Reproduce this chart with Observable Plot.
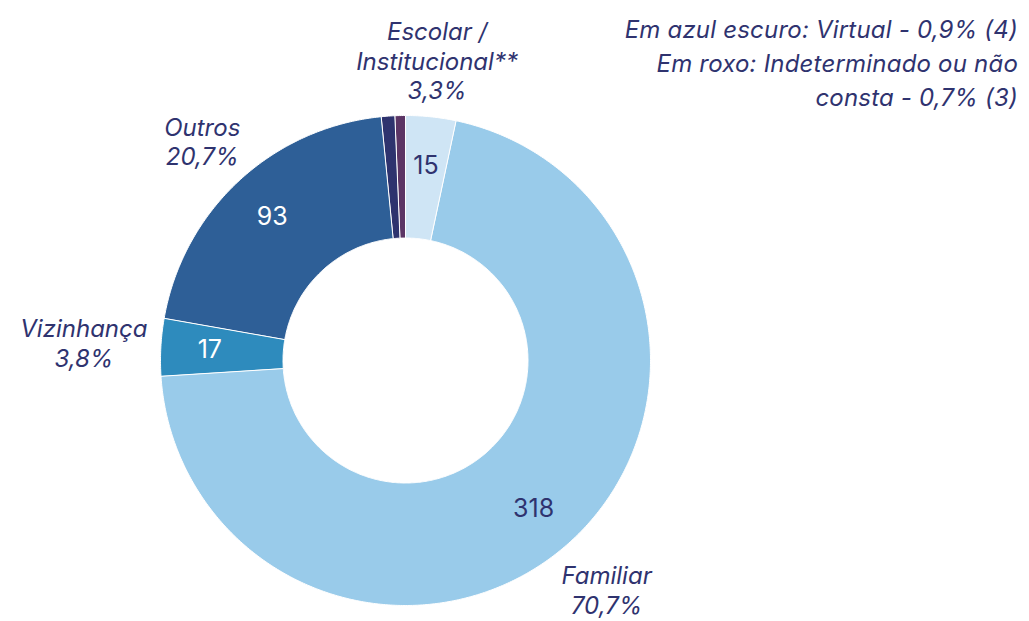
<!DOCTYPE html>
<html><head><meta charset="utf-8">
<script src="https://cdn.jsdelivr.net/npm/d3@7"></script>
<script src="https://cdn.jsdelivr.net/npm/@observablehq/plot@0.6"></script>
<style>
body{margin:0;background:#fff;}
#wrap{position:relative;width:1029px;height:621px;}
#note{position:absolute;right:11px;top:13px;text-align:right;font-family:Inter,sans-serif;font-style:italic;font-size:24px;letter-spacing:0.2px;color:#2f336f;line-height:34px;}
</style>
</head><body>
<div id="wrap"><div id="note">Em azul escuro: Virtual - 0,9% (4)<br>Em roxo: Indeterminado ou não<br>consta - 0,7% (3)</div></div>
<script>
const categories = ["Escolar / Institucional**", "Familiar", "Vizinhança", "Outros", "Virtual", "Indeterminado ou não consta"];
const counts = [15, 318, 17, 93, 4, 3];
const percentLabels = ["3,3%", "70,7%", "3,8%", "20,7%", "0,9%", "0,7%"];
const outerNames = ["Escolar /\nInstitucional**", "Familiar", "Vizinhança", "Outros", null, null];
const colors = ["#cfe5f5", "#99cbea", "#2e8bbd", "#2e5f97", "#2e336e", "#5c3565"];
const valueColors = ["#2f336f", "#2f336f", "#ffffff", "#ffffff", null, null];

const textColor = "#2f336f";
const innerR = 0.5, Rpx = 245, labelFont = 24, lineRel = 1.24, lineH = labelFont * lineRel;
const cyPx = 360, bottomLimit = 604;

const arcs = d3.pie().sort(null).value(d => d)(counts);

const ringPts = [];
arcs.forEach((a, i) => {
  const n = Math.max(2, Math.ceil((a.endAngle - a.startAngle) / 0.01));
  for (let k = 0; k <= n; k++) {
    const t = a.startAngle + (a.endAngle - a.startAngle) * k / n;
    ringPts.push({cat: categories[i], x: Math.sin(t), y: Math.cos(t)});
  }
  for (let k = n; k >= 0; k--) {
    const t = a.startAngle + (a.endAngle - a.startAngle) * k / n;
    ringPts.push({cat: categories[i], x: innerR * Math.sin(t), y: innerR * Math.cos(t)});
  }
});

const valueLabels = [];
const outerLabels = [];
arcs.forEach((a, i) => {
  if (!outerNames[i]) return;
  const m = (a.startAngle + a.endAngle) / 2;
  const r = 0.8;
  valueLabels.push({x: r * Math.sin(m), y: r * Math.cos(m), text: String(counts[i]), color: valueColors[i]});
  const lines = (outerNames[i] + "\n" + percentLabels[i]).split("\n");
  const hw = d3.max(lines, l => l.length) * labelFont * 0.29;
  const hh = lines.length * lineH / 2;
  const rp = Rpx * 1.025 + hw * Math.abs(Math.sin(m)) + 0.9 * hh * Math.abs(Math.cos(m));
  let xPx = rp * Math.sin(m), yPx = -rp * Math.cos(m);
  const lastLine = cyPx + yPx + lineH * (lines.length - 1) / 2;
  if (lastLine > bottomLimit) yPx -= lastLine - bottomLimit;
  outerLabels.push({x: xPx / Rpx, y: -yPx / Rpx, text: lines.join("\n")});
});

const chart = Plot.plot({
  width: 1029, height: 621,
  marginLeft: 160, marginRight: 379, marginTop: 115, marginBottom: 16,
  x: {domain: [-1, 1], axis: null},
  y: {domain: [-1, 1], axis: null},
  color: {domain: categories, range: colors},
  style: {fontFamily: "Inter, sans-serif", background: "white"},
  marks: [
    Plot.line(ringPts, {x: "x", y: "y", z: "cat", fill: "cat", stroke: "white", strokeWidth: 1, curve: "linear-closed"}),
    Plot.text(valueLabels, {x: "x", y: "y", text: "text", fill: d => d.color, fontSize: 25}),
    Plot.text(outerLabels, {x: "x", y: "y", text: "text", fill: textColor, fontSize: labelFont, fontStyle: "italic", lineHeight: lineRel})
  ]
});
document.getElementById("wrap").prepend(chart);
</script>
</body></html>
